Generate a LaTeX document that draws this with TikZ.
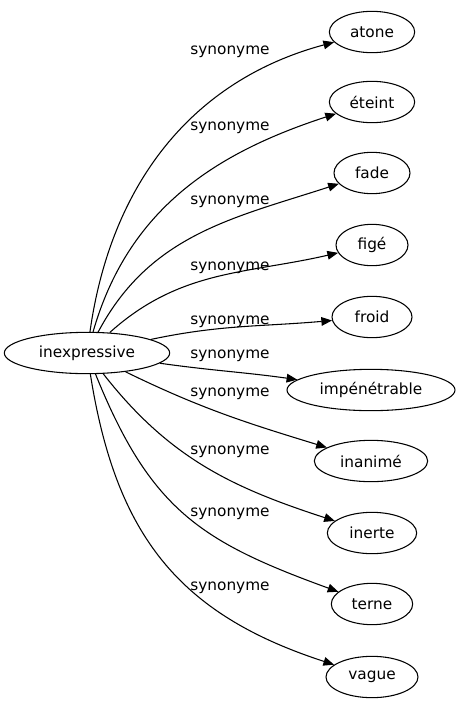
\documentclass[tikz,border=0pt]{standalone}
\usepackage{fontspec}
\setmainfont{DejaVu Sans}
\usetikzlibrary{arrows.meta,positioning,shapes.geometric}

\tikzset{
  word/.style={ellipse,draw,line width=0.8pt,inner sep=0pt,minimum height=31pt,font=\fontsize{11.5}{13}\selectfont},
  syn/.style={-{Triangle[length=8pt,width=6.5pt]},line width=0.8pt},
  synlabel/.style={font=\fontsize{11.5}{13}\selectfont,inner sep=0pt}
}

\begin{document}
\begin{tikzpicture}[x=0.75pt,y=-0.75pt]
  \useasboundingbox (0,0) rectangle (461,707);
  % central word
  \node[word,minimum width=124pt] (inexpressive) at (87,353) {inexpressive};
  % synonyms
  \node[word,minimum width=64pt] (atone) at (372,32) {atone};
  \node[word,minimum width=64pt] (eteint) at (372,102) {éteint};
  \node[word,minimum width=57pt] (fade) at (372,173) {fade};
  \node[word,minimum width=54pt] (fige) at (372,245) {figé};
  \node[word,minimum width=60pt] (froid) at (372,317) {froid};
  \node[word,minimum width=126pt] (impenetrable) at (371,390) {impénétrable};
  \node[word,minimum width=85pt] (inanime) at (371,461) {inanimé};
  \node[word,minimum width=67pt] (inerte) at (372,533) {inerte};
  \node[word,minimum width=61pt] (terne) at (372,604) {terne};
  \node[word,minimum width=69pt] (vague) at (372,677) {vague};
  % edges
  \draw[syn] (inexpressive) to[out=82,in=195] (atone);
  \draw[syn] (inexpressive) to[out=74,in=198] (eteint);
  \draw[syn] (inexpressive) to[out=62,in=198] (fade);
  \draw[syn] (inexpressive) to[out=42,in=193] (fige);
  \draw[syn] (inexpressive) to[out=12,in=185] (froid);
  \draw[syn] (inexpressive) to[out=-8,in=172] (impenetrable);
  \draw[syn] (inexpressive) to[out=-26,in=163] (inanime);
  \draw[syn] (inexpressive) to[out=-52,in=162] (inerte);
  \draw[syn] (inexpressive) to[out=-68,in=160,looseness=1.15] (terne);
  \draw[syn] (inexpressive) to[out=-81,in=162,looseness=1.1] (vague);
  % labels
  \node[synlabel] (l1) at (230,52) {synonyme};
  \node[synlabel] (l2) at (230,128) {synonyme};
  \node[synlabel] (l3) at (230,202) {synonyme};
  \node[synlabel] (l4) at (230,268) {synonyme};
  \node[synlabel] (l5) at (230,322) {synonyme};
  \node[synlabel] (l6) at (230,356) {synonyme};
  \node[synlabel] (l7) at (230,394) {synonyme};
  \node[synlabel] (l8) at (230,452) {synonyme};
  \node[synlabel] (l9) at (230,514) {synonyme};
  \node[synlabel] (l10) at (230,588) {synonyme};
\end{tikzpicture}
\end{document}
